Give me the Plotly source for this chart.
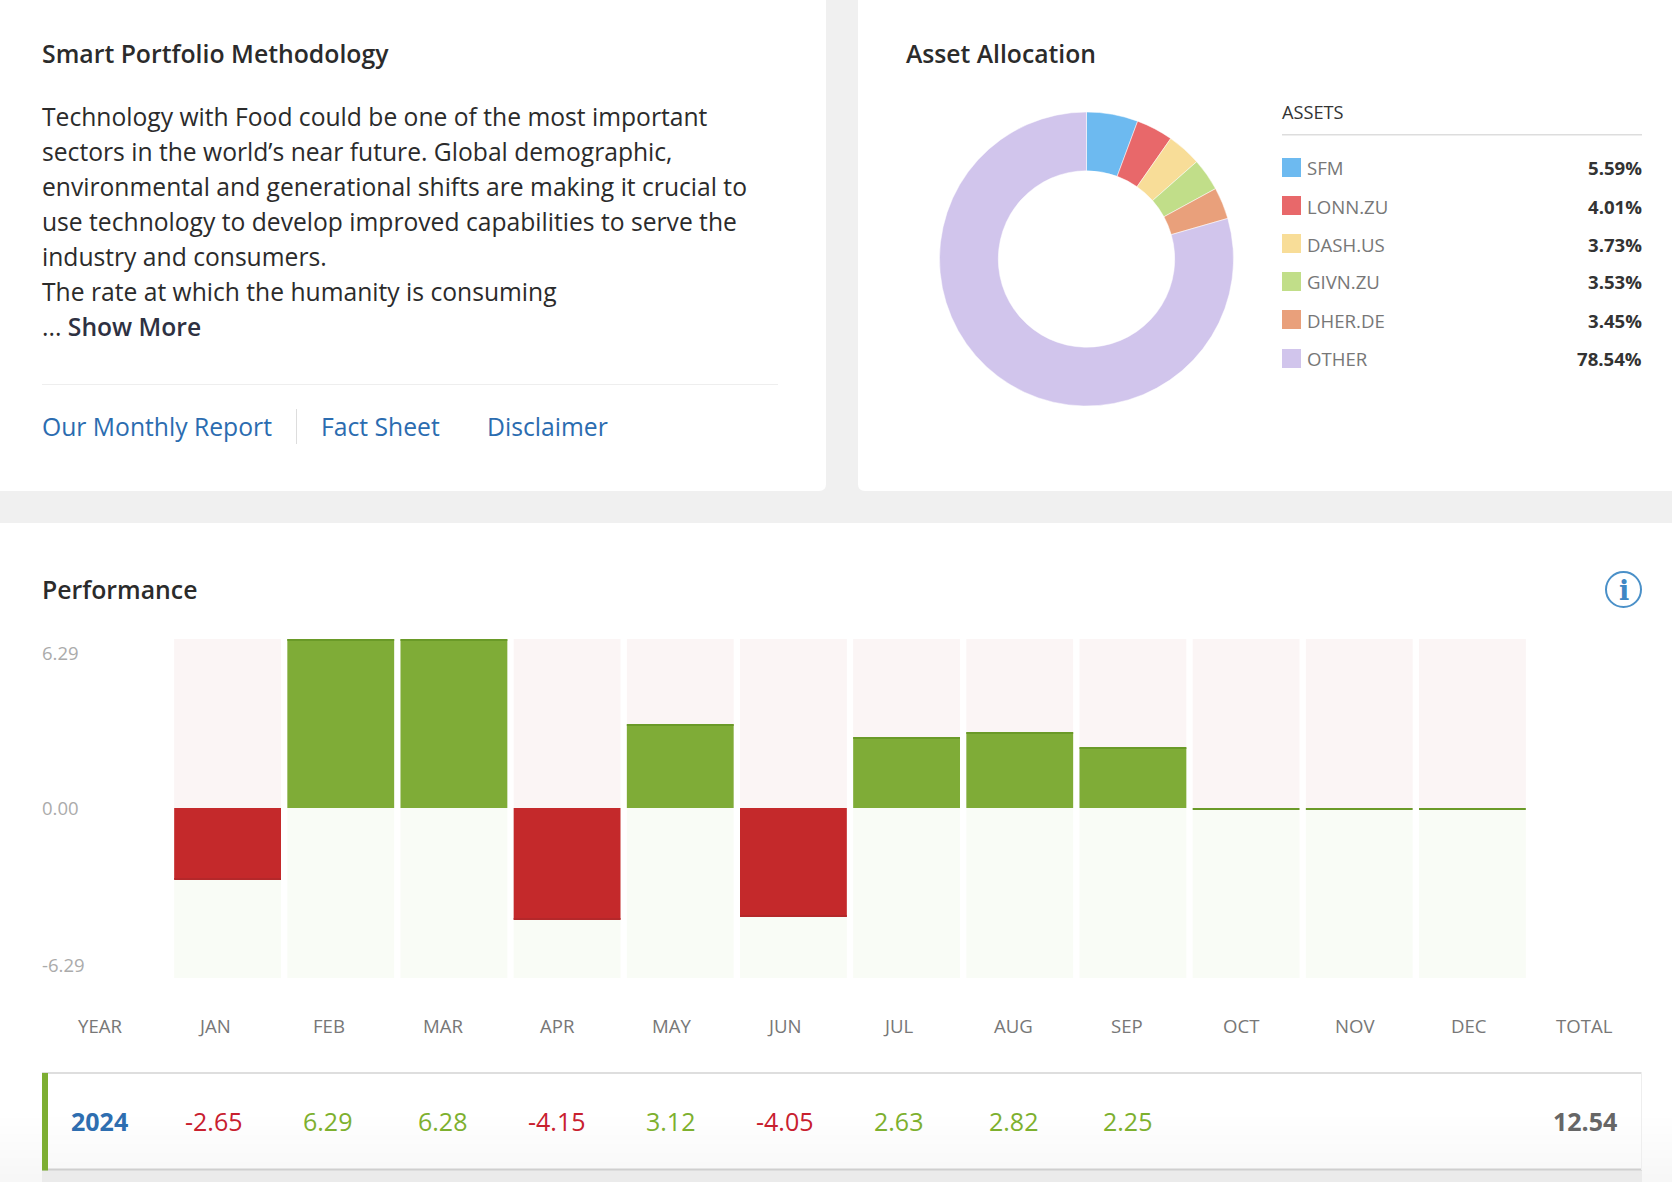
import plotly.graph_objects as go

W, H = 1672, 1182
FONT = "Open Sans"

# ---- data ----
assets = ["SFM", "LONN.ZU", "DASH.US", "GIVN.ZU", "DHER.DE", "OTHER"]
weights = [5.59, 4.01, 3.73, 3.53, 3.45, 78.54]
asset_colors = ["#6DBAF0", "#E8686A", "#F8DD98", "#C1DE89", "#E9A07B", "#D1C5EC"]

months = ["JAN", "FEB", "MAR", "APR", "MAY", "JUN", "JUL", "AUG", "SEP", "OCT", "NOV", "DEC"]
returns = [-2.65, 6.29, 6.28, -4.15, 3.12, -4.05, 2.63, 2.82, 2.25, 0, 0, 0]
row_labels = ["-2.65", "6.29", "6.28", "-4.15", "3.12", "-4.05", "2.63", "2.82", "2.25", "", "", ""]
axis_labels = ["6.29", "0.00", "-6.29"]
year = "2024"
total = "12.54"

body_lines = [
    "Technology with Food could be one of the most important",
    "sectors in the world’s near future. Global demographic,",
    "environmental and generational shifts are making it crucial to",
    "use technology to develop improved capabilities to serve the",
    "industry and consumers.",
    "The rate at which the humanity is consuming",
]
links = ["Our Monthly Report", "Fact Sheet", "Disclaimer"]

# ---- helpers (pixel layout) ----
def px(x): return x / W
def py(y): return 1 - y / H

annotations, shapes = [], []

def text(x, y, s, size=18.5, color="#333", anchor="left", weight=400, family=FONT):
    annotations.append(dict(x=px(x), y=py(y), xref="paper", yref="paper", text=s, showarrow=False,
                            xanchor=anchor, yanchor="middle", align=anchor, borderpad=0,
                            font=dict(family=family, size=size, color=color, weight=weight)))

def rect(x0, y0, x1, y1, color, layer="below"):
    shapes.append(dict(type="rect", xref="paper", yref="paper", x0=px(x0), x1=px(x1), y0=py(y0), y1=py(y1),
                       fillcolor=color, line=dict(width=0), layer=layer))

# page and cards
rect(0, 0, W, 523, "#F0F0F0")
shapes.append(dict(type="path", xref="paper", yref="paper", layer="below", fillcolor="#FFFFFF", line=dict(width=0),
                   path=f"M 0 1 L {px(826)} 1 L {px(826)} {py(484)} Q {px(826)} {py(491)} {px(819)} {py(491)} L 0 {py(491)} Z"))
shapes.append(dict(type="path", xref="paper", yref="paper", layer="below", fillcolor="#FFFFFF", line=dict(width=0),
                   path=f"M {px(858)} 1 L 1 1 L 1 {py(491)} L {px(865)} {py(491)} Q {px(858)} {py(491)} {px(858)} {py(484)} Z"))

# left card
text(41, 53, "Smart Portfolio Methodology", size=24.8, color="#2B2B2B", weight=600)
for i, line in enumerate(body_lines):
    text(41, 116 + 35 * i, line, size=24.65, color="#2B2B2B")
text(41, 326, "... <span style='font-weight:600;color:#2E3142'>Show More</span>", size=24.65, color="#2B2B2B")
rect(42, 384, 778, 385, "#EEEEEE")
rect(296, 409, 297, 444, "#DDDDDD")
for x, s in zip([41, 320, 486.3], links):
    text(x, 426, s, size=24.7, color="#2B6CB0")

# right card
text(905, 53, "Asset Allocation", size=24.7, color="#2B2B2B", weight=600)
text(1281, 112, "ASSETS", size=18.2, color="#333")
rect(1282, 134, 1642, 135.5, "#DDDDDD")
legend_tops = [158, 196, 234, 272, 310, 349]
for top, name, w, c in zip(legend_tops, assets, weights, asset_colors):
    rect(1282, top, 1301, top + 19, c)
    text(1305.7, top + 10, name, size=18.6, color="#777")
    text(1643, top + 10, f"{w:.2f}%", size=18.6, color="#333", anchor="right", weight=700)

# performance
text(41, 589, "Performance", size=24.8, color="#2B2B2B", weight=600)
shapes.append(dict(type="circle", xref="paper", yref="paper", x0=px(1606), x1=px(1641), y0=py(572), y1=py(607),
                   line=dict(color="#4A90C8", width=2), fillcolor="#FFFFFF", layer="below"))
text(1623.5, 590.5, "i", size=27, color="#3F87C4", anchor="center", weight=700, family="DejaVu Serif")
for y, s in zip([652.5, 807.5, 964.5], axis_labels):
    text(41, y, s, size=18.5, color="#ABABAB")

header_x = [214.5, 329, 443, 557, 671.5, 784.5, 899, 1013, 1127, 1241, 1355, 1469]
text(100, 1025.5, "YEAR", size=18.6, color="#777", anchor="center")
for x, m in zip(header_x, months):
    text(x, 1025.5, m, size=18.6, color="#777", anchor="center")
text(1584, 1025.5, "TOTAL", size=18.6, color="#777", anchor="center")

# soft shadow towards the bottom of the page
for i in range(9):
    g = 255 - i
    rect(0, 1110 + i * 8, W, 1118 + i * 8, f"rgb({g},{g},{g})")

# table row
rect(42, 1072, 1642, 1170, "#FFFFFF")
for i in range(7):
    g = 255 - i
    rect(48, 1108 + i * 9, 1642, 1117 + i * 9, f"rgb({g},{g},{g})")
rect(42, 1170, 1642, 1182, "#EBEBEB")
rect(42, 1072, 1642, 1074, "#DEDEDE")
rect(42, 1168.5, 1642, 1170.5, "#CFCFCF")
rect(1641, 1072, 1642, 1170, "#EEEEEE")
rect(42, 1073, 48, 1170.5, "#7DAE32")
text(99.5, 1121, year, size=25, color="#2E6EB0", anchor="center", weight=700)
row_x = [213.5, 327.5, 442, 556.5, 670.5, 785, 899, 1013, 1127, 1241, 1355, 1469]
for x, s, v in zip(row_x, row_labels, returns):
    if s:
        text(x, 1121, s, size=25, color="#7DB02E" if v > 0 else "#C8202E", anchor="center")
text(1585, 1121, total, size=25, color="#666", anchor="center", weight=700)

# ---- traces ----
pos_track = [6.29] * 12
neg_track = [-6.33] * 12
edge = 0.04
fig = go.Figure()
fig.add_trace(go.Bar(x=months, y=pos_track, marker=dict(color="#FBF5F5", line=dict(width=0)), hoverinfo="skip"))
fig.add_trace(go.Bar(x=months, y=neg_track, marker=dict(color="#F9FCF6", line=dict(width=0)), hoverinfo="skip"))
fig.add_trace(go.Bar(x=months, y=returns,
                     marker=dict(color=["#7FAC37" if v >= 0 else "#C4292B" for v in returns], line=dict(width=0))))
fig.add_trace(go.Bar(x=months, y=[edge] * 12,
                     base=[v - edge if v > 0 else (v if v < 0 else -edge) for v in returns],
                     marker=dict(color=["#6A9A28" if v >= 0 else "#B4282A" for v in returns], line=dict(width=0)),
                     hoverinfo="skip"))
fig.add_trace(go.Pie(labels=assets, values=weights, hole=0.6, sort=False, direction="clockwise", rotation=0,
                     textinfo="none", marker=dict(colors=asset_colors, line=dict(color="#FFFFFF", width=0.5)),
                     domain=dict(x=[px(1086.5 - 147), px(1086.5 + 147)], y=[py(259 + 147), py(259 - 147)]),
                     showlegend=False))

fig.update_layout(
    width=W, height=H, margin=dict(l=0, r=0, t=0, b=0, autoexpand=False), paper_bgcolor="#FFFFFF", plot_bgcolor="rgba(0,0,0,0)",
    barmode="overlay", bargap=0.056, showlegend=False, annotations=annotations, shapes=shapes,
    xaxis=dict(domain=[px(171), px(1529)], visible=False, type="category", range=[-0.5, 11.5], fixedrange=True),
    yaxis=dict(domain=[py(978), py(639)], visible=False, range=[-6.33, 6.29], fixedrange=True),
)
fig.write_html("out.html", config={"displayModeBar": False}, post_script="document.body.style.margin='0';")
